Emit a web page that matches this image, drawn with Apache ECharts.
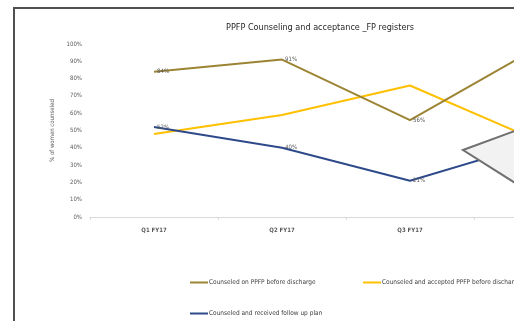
<!DOCTYPE html>
<html>
<head>
<meta charset="utf-8">
<script src="https://cdn.jsdelivr.net/npm/echarts@6/dist/echarts.min.js"></script>
<style>
  html, body { margin: 0; padding: 0; width: 514px; height: 321px; overflow: hidden; background: #fff; }
  #frame { position: absolute; left: 13px; top: 7px; width: 640px; height: 340px; border: 2px solid #505050; }
  #chart { position: absolute; left: 0; top: 0; width: 610px; height: 340px; }
  #callout { position: absolute; left: 0; top: 0; width: 514px; height: 321px; pointer-events: none; }
</style>
</head>
<body>
<div id="frame"><div id="chart"></div></div>
<svg id="callout" width="514" height="321">
  <polygon points="463,150 520,129 520,186" fill="#f2f2f2" stroke="#6f6f6f" stroke-width="2"/>
</svg>
<script>
var quarters = ['Q1 FY17', 'Q2 FY17', 'Q3 FY17', 'Q4 FY17'];
var counseledDischarge = [84, 91, 56, 98];
var acceptedDischarge = [48, 59, 76, 44];
var followUpPlan = [52, 40, 21, 43];
var seriesNames = [
    'Counseled on PPFP before discharge',
    'Counseled and accepted PPFP before discharge',
    'Counseled and received follow up plan'
];

var font = "'Liberation Sans Narrow', 'DejaVu Sans Condensed', sans-serif";
var chart = echarts.init(document.getElementById('chart'));

var pctLabel = {
    show: true,
    position: 'right',
    distance: 3,
    fontSize: 6,
    fontFamily: font,
    color: '#595959',
    formatter: '{c}%'
};

function legendAt(name, left, top) {
    return {
        data: [name],
        left: left,
        top: top,
        icon: 'rect',
        itemWidth: 18,
        itemHeight: 2,
        itemGap: 0,
        textStyle: { fontSize: 6.5, fontFamily: font, color: '#404040', padding: [0, 0, 0, -4] }
    };
}

var option = {
    animation: false,
    backgroundColor: '#fff',
    title: {
        text: 'PPFP Counseling and acceptance _FP registers',
        left: 'center',
        top: 9,
        textStyle: { fontSize: 9, fontWeight: 'normal', fontFamily: font, color: '#262626' }
    },
    grid: { left: 75, top: 35, width: 512, height: 173 },
    legend: [
        legendAt(seriesNames[0], 170, 265),
        legendAt(seriesNames[1], 343, 265),
        legendAt(seriesNames[2], 170, 296)
    ],
    xAxis: {
        type: 'category',
        data: quarters,
        boundaryGap: true,
        axisLine: { lineStyle: { color: '#d9d9d9', width: 1 } },
        axisTick: { show: true, length: 3, lineStyle: { color: '#d9d9d9' } },
        axisLabel: { fontSize: 6, fontWeight: 'bold', fontFamily: font, color: '#595959', margin: 10 }
    },
    yAxis: {
        type: 'value',
        min: 0,
        max: 100,
        interval: 10,
        name: '% of women counseled',
        nameLocation: 'middle',
        nameGap: 26,
        nameTextStyle: { fontSize: 6, fontFamily: font, color: '#595959' },
        splitLine: { show: false },
        axisLine: { show: false },
        axisTick: { show: false },
        axisLabel: { fontSize: 6, fontFamily: font, color: '#595959', margin: 8, formatter: '{value}%' }
    },
    series: [
        {
            name: seriesNames[0],
            type: 'line',
            data: counseledDischarge,
            color: '#9c8434',
            lineStyle: { width: 2 },
            symbol: 'circle',
            symbolSize: 0.1,
            showSymbol: true,
            label: pctLabel,
            z: 3
        },
        {
            name: seriesNames[1],
            type: 'line',
            data: acceptedDischarge,
            color: '#ffc000',
            lineStyle: { width: 2 },
            symbol: 'none',
            z: 2
        },
        {
            name: seriesNames[2],
            type: 'line',
            data: followUpPlan,
            color: '#2f4a8a',
            lineStyle: { width: 2 },
            symbol: 'circle',
            symbolSize: 0.1,
            showSymbol: true,
            label: pctLabel,
            z: 4
        }
    ]
};

chart.setOption(option);
</script>
</body>
</html>
